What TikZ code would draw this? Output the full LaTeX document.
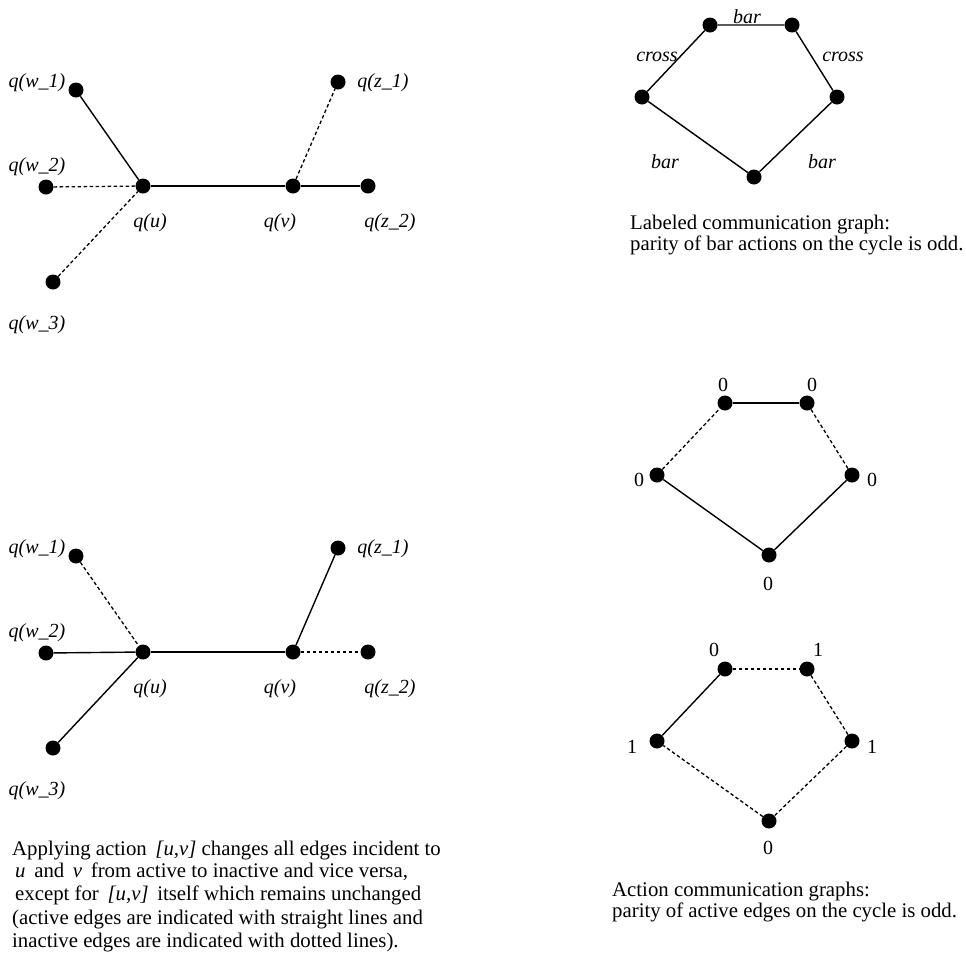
\documentclass[tikz,border=0pt]{standalone}
\usepackage{fontspec}
\setmainfont{Liberation Serif}
\usetikzlibrary{positioning}

% star around the action edge [u,v]
\newcommand{\startree}{%
  \node[dot] (w1) at (76,90) {};
  \node[dot] (w2) at (46,187) {};
  \node[dot] (w3) at (53,282) {};
  \node[dot] (u) at (143,186) {};
  \node[dot] (v) at (293,186) {};
  \node[dot] (z1) at (338,82) {};
  \node[dot] (z2) at (368,186) {};
  \node[lbl] (lw1) at (37,83) {q(w\_1)};
  \node[lbl] (lw2) at (37,167) {q(w\_2)};
  \node[lbl] (lw3) at (37,325) {q(w\_3)};
  \node[lbl] (lu) at (150,223) {q(u)};
  \node[lbl] (lv) at (280,223) {q(v)};
  \node[lbl] (lz1) at (383,83) {q(z\_1)};
  \node[lbl] (lz2) at (390,223) {q(z\_2)};
}
% five-cycle, first corner at the origin of the scope
\newcommand{\cycle}{%
  \node[dot] (a) at (0,0) {};
  \node[dot] (b) at (82,0) {};
  \node[dot] (c) at (127,72) {};
  \node[dot] (d) at (44,152) {};
  \node[dot] (e) at (-68,72) {};
}

\begin{document}
\begin{tikzpicture}[
    x=1pt, y=-1pt,
    dot/.style={circle, fill, inner sep=0pt, minimum size=15pt},
    lbl/.style={font=\fontsize{20}{19}\selectfont\itshape, inner sep=0pt},
    num/.style={font=\fontsize{20}{19}\selectfont, inner sep=0pt},
    captext/.style={font=\fontsize{20.8}{18.5}\selectfont, align=left, inner sep=0pt, anchor=base west},
    active/.style={line width=1.4pt},
    inactive/.style={line width=1.3pt, dash pattern=on 3.5pt off 2.5pt}
]
    \useasboundingbox (0,0) rectangle (966,962);

    % Star before the action
    \begin{scope}[name prefix=t-]
        \startree
        \draw[active] (w1) -- (u);
        \draw[inactive] (w2) -- (u);
        \draw[inactive] (w3) -- (u);
        \draw[active] (u) -- (v);
        \draw[inactive] (v) -- (z1);
        \draw[active] (v) -- (z2);
    \end{scope}

    % Star after the action
    \begin{scope}[shift={(0,466)}, name prefix=b-]
        \startree
        \draw[inactive] (w1) -- (u);
        \draw[active] (w2) -- (u);
        \draw[active] (w3) -- (u);
        \draw[active] (u) -- (v);
        \draw[active] (v) -- (z1);
        \draw[inactive] (v) -- (z2);
    \end{scope}

    % Labeled communication graph
    \begin{scope}[shift={(710,25)}, name prefix=l-]
        \cycle
        \draw[active] (a) -- (b) -- (c) -- (d) -- (e) -- (a);
        \node[lbl] (bar1) at (37,-8) {bar};
        \node[lbl] (cross1) at (-53,32) {cross};
        \node[lbl] (cross2) at (133,32) {cross};
        \node[lbl] (bar2) at (-45,137) {bar};
        \node[lbl] (bar3) at (112,137) {bar};
    \end{scope}

    % Action communication graphs
    \begin{scope}[shift={(725,403)}, name prefix=m-]
        \cycle
        \draw[active] (a) -- (b);
        \draw[inactive] (b) -- (c);
        \draw[active] (c) -- (d);
        \draw[active] (d) -- (e);
        \draw[inactive] (e) -- (a);
        \node[num] (na) at (-2,-18) {0};
        \node[num] (nb) at (87,-18) {0};
        \node[num] (nc) at (147,77) {0};
        \node[num] (nd) at (43,181) {0};
        \node[num] (ne) at (-86,77) {0};
    \end{scope}

    \begin{scope}[shift={(725,669)}, name prefix=n-]
        \cycle
        \draw[inactive] (a) -- (b);
        \draw[inactive] (b) -- (c);
        \draw[inactive] (c) -- (d);
        \draw[inactive] (d) -- (e);
        \draw[active] (e) -- (a);
        \node[num] (na) at (-11,-19) {0};
        \node[num] (nb) at (93,-19) {1};
        \node[num] (nc) at (147,78) {1};
        \node[num] (nd) at (43,179) {0};
        \node[num] (ne) at (-93,78) {1};
    \end{scope}

    % Captions (base is the last line)
    \node[captext] (cap1) at (630,250) {Labeled communication graph:\\parity of bar actions on the cycle is odd.};
    \node[captext] (cap2) at (612,917) {Action communication graphs:\\parity of active edges on the cycle is odd.};
    \node[captext, font=\fontsize{20.8}{22.5}\selectfont] (cap3) at (12,947)
        {Applying action \,\textit{[u,v]} changes all edges incident to\\
         \hspace{3pt}\textit{u} \,and \,\textit{v} \,from active to inactive and vice versa,\\
         \hspace{3pt}except for \,\textit{[u,v]} \,itself which remains unchanged\\[2pt]
         (active edges are indicated with straight lines and\\
         inactive edges are indicated with dotted lines).};
\end{tikzpicture}
\end{document}
